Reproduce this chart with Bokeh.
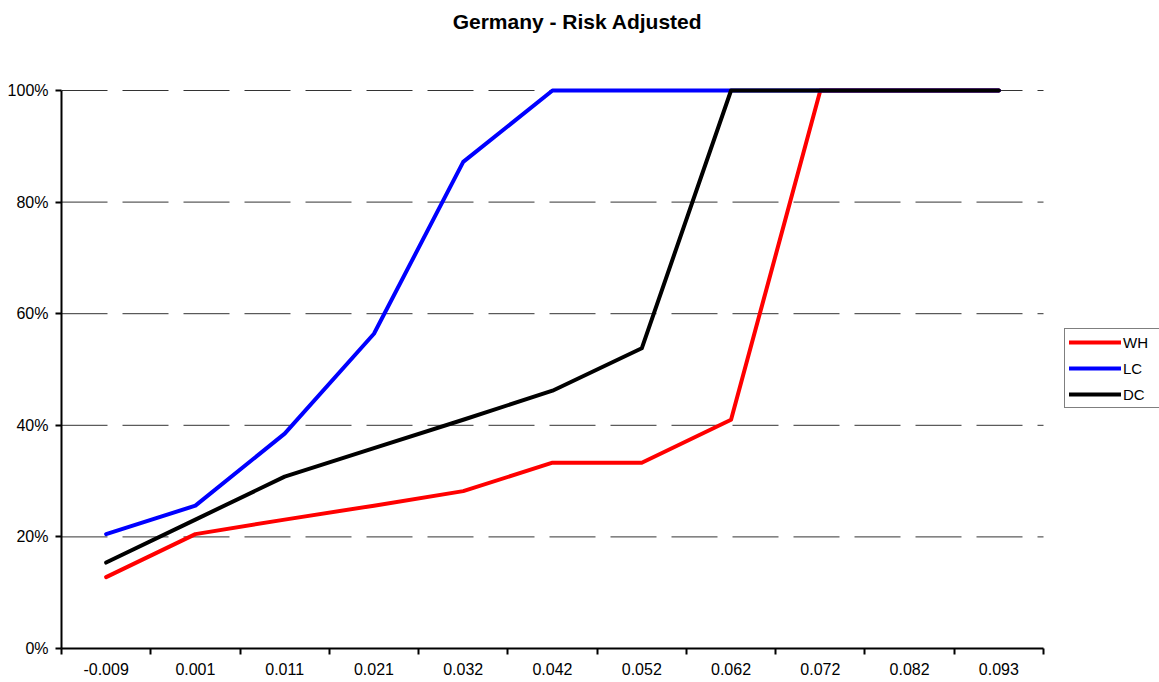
from bokeh.plotting import figure
from bokeh.models import (FixedTicker, NumeralTickFormatter, CustomJSTickFormatter,
                          Legend, LegendItem, Range1d, Label)
from bokeh.embed import file_html
from bokeh.resources import INLINE

categories = ["-0.009", "0.001", "0.011", "0.021", "0.032", "0.042",
              "0.052", "0.062", "0.072", "0.082", "0.093"]
wh = [0.128, 0.205, 0.231, 0.256, 0.282, 0.333, 0.333, 0.410, 1.0, 1.0, 1.0]
lc = [0.205, 0.256, 0.385, 0.564, 0.872, 1.0, 1.0, 1.0, 1.0, 1.0, 1.0]
dc = [0.154, 0.231, 0.308, 0.359, 0.410, 0.462, 0.538, 1.0, 1.0, 1.0, 1.0]
y_ticks = [0.0, 0.2, 0.4, 0.6, 0.8, 1.0]
title_text = "Germany - Risk Adjusted"

FONT = "Liberation Sans"
n = len(categories)
xs = [i + 0.5 for i in range(n)]

# layout (pixels): plot area 61..1043 horizontally, 90..648 vertically
W, H = 1159, 682
LEFT, RIGHT_AX, TOP_AX, BOTTOM = 61, 1043, 90, 648
frame_w = W - LEFT
frame_h = BOTTOM
x_end = n * frame_w / (RIGHT_AX - LEFT)
y_end = 1.0 * frame_h / (BOTTOM - TOP_AX)

p = figure(width=W, height=H, output_backend="svg", toolbar_location=None,
           x_range=Range1d(0, x_end), y_range=Range1d(0, y_end),
           min_border_left=LEFT, min_border_right=0, min_border_top=0,
           min_border_bottom=H - BOTTOM)
p.outline_line_color = None
p.background_fill_color = "white"
p.border_fill_color = "white"
p.xgrid.grid_line_color = None
p.ygrid.grid_line_color = None

# x axis
xa = p.xaxis[0]
xa.bounds = (0, n)
xa.ticker = FixedTicker(ticks=xs, minor_ticks=list(range(n + 1)))
xa.formatter = CustomJSTickFormatter(args=dict(labels=categories),
                                     code="return labels[Math.round(tick - 0.5)];")
xa.major_tick_line_color = None
xa.major_tick_out = 6
xa.major_tick_in = 0
xa.minor_tick_line_color = "black"
xa.minor_tick_line_width = 2
xa.minor_tick_out = 6
xa.minor_tick_in = 0
xa.axis_line_width = 2
xa.axis_line_color = "black"
xa.major_label_text_font = FONT
xa.major_label_text_font_size = "16px"
xa.major_label_text_color = "black"
xa.major_label_standoff = 8

# y axis
ya = p.yaxis[0]
ya.bounds = (0, 1)
ya.ticker = FixedTicker(ticks=y_ticks, minor_ticks=[])
ya.formatter = NumeralTickFormatter(format="0%")
ya.major_tick_line_color = "black"
ya.major_tick_line_width = 2
ya.major_tick_out = 6
ya.major_tick_in = 0
ya.minor_tick_line_color = None
ya.axis_line_width = 2
ya.axis_line_color = "black"
ya.major_label_text_font = FONT
ya.major_label_text_font_size = "16px"
ya.major_label_text_color = "black"
ya.major_label_standoff = 7

# horizontal dashed grid lines, limited to the category span
grid_y = y_ticks[1:]
p.segment(x0=[0] * len(grid_y), x1=[n] * len(grid_y), y0=grid_y, y1=grid_y,
          line_color="#333333", line_width=1, line_dash="46 15")

r_wh = p.line(xs, wh, line_color="#FF0000", line_width=4, line_join="round", line_cap="round")
r_lc = p.line(xs, lc, line_color="#0000FF", line_width=4, line_join="round", line_cap="round")
r_dc = p.line(xs, dc, line_color="#000000", line_width=4, line_join="round", line_cap="round")

# title
p.add_layout(Label(x=577 - LEFT, y=BOTTOM - 21, x_units="screen", y_units="screen",
                   text=title_text, text_font=FONT, text_font_size="21px",
                   text_font_style="bold", text_color="black",
                   text_align="center", text_baseline="alphabetic"))

legend = Legend(items=[LegendItem(label="WH", renderers=[r_wh]),
                       LegendItem(label="LC", renderers=[r_lc]),
                       LegendItem(label="DC", renderers=[r_dc])],
                location=(1064 - LEFT, BOTTOM - 408), margin=0, padding=4, spacing=8,
                glyph_width=52, glyph_height=18, label_height=18, label_width=33,
                label_standoff=2,
                label_text_font=FONT, label_text_font_size="15px",
                label_text_color="black",
                border_line_color="black", border_line_width=1,
                background_fill_color="white")
p.add_layout(legend, "center")

open("out.html", "w").write(file_html(p, INLINE))
